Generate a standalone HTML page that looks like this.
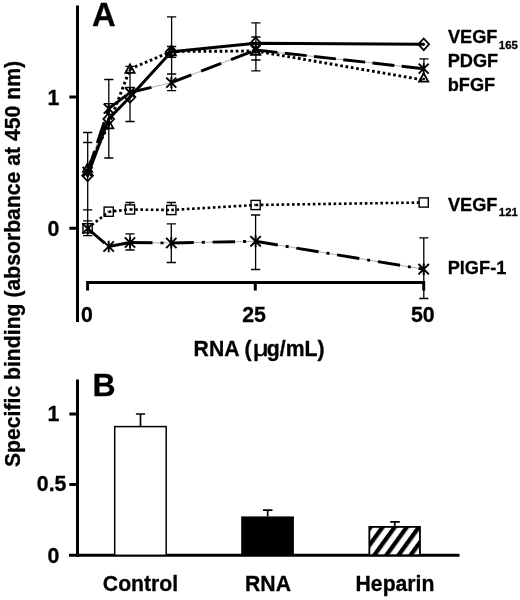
<!DOCTYPE html>
<html><head><meta charset="utf-8"><title>Figure</title>
<style>
html,body{margin:0;padding:0;background:#fff;}
body{width:520px;height:600px;overflow:hidden;}
svg{display:block;}
text{font-family:"Liberation Sans",Arial,Helvetica,sans-serif;font-weight:bold;fill:#000;stroke:#000;stroke-width:0.3px;stroke-linejoin:round;}
</style></head><body>
<svg width="520" height="600" viewBox="0 0 520 600">
<defs>
<pattern id="hatch" patternUnits="userSpaceOnUse" width="9.8" height="9.8" patternTransform="rotate(-54) translate(0 -0.2)">
<rect x="0" y="0" width="9.8" height="4.3" fill="#000"/>
</pattern>
</defs>
<rect width="520" height="600" fill="#fff"/>

<g fill="none" stroke="#000" stroke-width="3" stroke-linecap="butt">
<path d="M77.5 5.5V322"/>
<path d="M69.3 97H77M69.3 228.3H77"/>
<path d="M87.6 290.4V282.5H423.7V290.4M255.3 282.5V290.4"/>
<path d="M77.5 379.5V556.8"/>
<path d="M69 555.3H459.5"/>
<path d="M69.3 414H77M69.3 484.6H77"/>
</g>
<g fill="none" stroke="#000" stroke-width="1.3">
<path d="M87.7 132.5V235.6M83.10000000000001 132.5H92.3M83.10000000000001 142.5H92.3M83.10000000000001 209.8H92.3M83.10000000000001 220.8H92.3M83.10000000000001 235.6H92.3"/>
<path d="M108.8 79.5V158M104.2 79.5H113.39999999999999M104.2 103.7H113.39999999999999M104.2 158H113.39999999999999"/>
<path d="M130 66.3V121.5M125.4 66.3H134.6M125.4 87.5H134.6M125.4 121.5H134.6"/>
<path d="M171.6 16.9V90.6M167.0 16.9H176.2M167.0 46.5H176.2M167.0 57.3H176.2M167.0 74H176.2M167.0 90.6H176.2"/>
<path d="M255.9 22.8V70.9M251.3 22.8H260.5M251.3 37H260.5M251.3 60H260.5M251.3 70.9H260.5"/>
<path d="M423.9 58.8V68M419.29999999999995 58.8H428.5"/>
<path d="M130 202.5V205M125.4 202.5H134.6"/>
<path d="M171.3 202.5V205.5M166.70000000000002 202.5H175.9"/>
<path d="M130 233.8V250M125.4 233.8H134.6M125.4 250H134.6"/>
<path d="M171.3 223.8V262.5M166.70000000000002 223.8H175.9M166.70000000000002 262.5H175.9"/>
<path d="M255.6 215V269.5M251.0 215H260.2M251.0 269.5H260.2"/>
<path d="M423.8 237.8V298.5M419.2 237.8H428.40000000000003M419.2 298.5H428.40000000000003"/>
</g>
<g fill="none" stroke="#000" stroke-linejoin="round">
<polyline points="87.6,228.5 108.7,246.5 130.0,242.5 171.3,243 255.6,241.3 423.7,269.2" stroke="#999" stroke-width="0.8"/>
<polyline points="87.6,172 108.7,108.7 130.0,92.5 171.3,82.7 255.6,50 423.7,68.7" stroke="#999" stroke-width="0.8"/>
<polyline points="87.6,175.5 108.7,119 130.0,97 171.3,51.7 255.6,43.3 423.7,44.3" stroke-width="3"/>
<line x1="87.6" y1="172" x2="108.7" y2="108.7" stroke-width="2.9" stroke-dasharray="22 8.5"/>
<line x1="108.7" y1="108.7" x2="130.0" y2="92.5" stroke-width="2.9" stroke-dasharray="22 8.5"/>
<line x1="130.0" y1="92.5" x2="171.3" y2="82.7" stroke-width="2.9" stroke-dasharray="22 40"/>
<line x1="171.3" y1="82.7" x2="255.6" y2="50" stroke-width="2.9" stroke-dasharray="21.5 10.5"/>
<line x1="255.6" y1="50" x2="423.7" y2="68.7" stroke-width="2.9" stroke-dasharray="22 7.4"/>
<line x1="87.6" y1="168" x2="108.7" y2="124.5" stroke-width="2.9" stroke-dasharray="2.7 2.67"/>
<line x1="108.7" y1="124.5" x2="130.0" y2="69" stroke-width="2.9" stroke-dasharray="2.7 2.67"/>
<line x1="130.0" y1="69" x2="171.3" y2="51.5" stroke-width="2.9" stroke-dasharray="2.7 2.67"/>
<line x1="171.3" y1="51.5" x2="255.6" y2="51" stroke-width="2.9" stroke-dasharray="2.7 2.67"/>
<line x1="255.6" y1="51" x2="423.7" y2="80" stroke-width="2.9" stroke-dasharray="2.7 2.67"/>
<line x1="87.6" y1="228.3" x2="108.7" y2="211.7" stroke-width="2.6" stroke-dasharray="2.6 2.6"/>
<line x1="108.7" y1="211.7" x2="130.0" y2="209.5" stroke-width="2.6" stroke-dasharray="2.6 2.6"/>
<line x1="130.0" y1="209.5" x2="171.3" y2="210" stroke-width="2.6" stroke-dasharray="2.6 2.6"/>
<line x1="171.3" y1="210" x2="255.6" y2="205" stroke-width="2.6" stroke-dasharray="2.6 2.6"/>
<line x1="255.6" y1="205" x2="423.7" y2="202.5" stroke-width="2.6" stroke-dasharray="2.6 2.6 2.6 2.6 2.6 2.6 2.6 2.6 2.6 2.6 2.6 2.6 2.6 2.6 2.6 2.6 2.6 2.6 2.6 2.6 2.6 2.6 2.6 2.6 2.6 2.6 2.6 2.6 2.6 2.6 2.6 2.6 2.6 2.6 2.6 2.6 2.6 2.6 2.6 2.6 2.6 2.6 2.6 2.6 2.6 2.6 2.6 2.6 2.6 2.6 2.6 2.6 2.6 2.6 2.6 2.6 2.6 2.6 2.6 2.6 2.6 2.6 2.6 20"/>
<line x1="87.6" y1="228.5" x2="108.7" y2="246.5" stroke-width="2.9" stroke-dasharray="22.5 8 3 7.8"/>
<line x1="108.7" y1="246.5" x2="130.0" y2="242.5" stroke-width="2.9" stroke-dasharray="22.5 8 3 7.8"/>
<line x1="130.0" y1="242.5" x2="171.3" y2="243" stroke-width="2.9" stroke-dasharray="22.5 8 3 7.8"/>
<line x1="171.3" y1="243" x2="255.6" y2="241.3" stroke-width="2.9" stroke-dasharray="22.5 8 3 7.8"/>
<line x1="255.6" y1="241.3" x2="423.7" y2="269.2" stroke-width="2.9" stroke-dasharray="22.5 8 3 7.8"/>
</g>
<g fill="none" stroke="#000" stroke-width="1.4">
<rect x="83.0" y="223.70000000000002" width="9.2" height="9.2"/>
<rect x="104.10000000000001" y="207.1" width="9.2" height="9.2"/>
<rect x="125.4" y="204.9" width="9.2" height="9.2"/>
<rect x="166.70000000000002" y="205.4" width="9.2" height="9.2"/>
<rect x="251.0" y="200.4" width="9.2" height="9.2"/>
<rect x="419.09999999999997" y="197.9" width="9.2" height="9.2"/>
</g>
<g fill="none" stroke="#000" stroke-width="1.8">
<path d="M87.6 169.7L93.0 175.5L87.6 181.3L82.19999999999999 175.5Z"/><circle cx="87.6" cy="175.5" r="1.4" fill="#000" stroke="none"/>
<path d="M108.7 113.19999999999999L114.10000000000001 119L108.7 124.80000000000001L103.3 119Z"/><circle cx="108.7" cy="119" r="1.4" fill="#000" stroke="none"/>
<path d="M130.0 91.19999999999999L135.4 97L130.0 102.80000000000001L124.6 97Z"/><circle cx="130.0" cy="97" r="1.4" fill="#000" stroke="none"/>
<path d="M171.3 45.900000000000006L176.70000000000002 51.7L171.3 57.5L165.9 51.7Z"/><circle cx="171.3" cy="51.7" r="1.4" fill="#000" stroke="none"/>
<path d="M255.6 37.5L261.0 43.3L255.6 49.099999999999994L250.2 43.3Z"/><circle cx="255.6" cy="43.3" r="1.4" fill="#000" stroke="none"/>
<path d="M423.7 38.5L429.09999999999997 44.3L423.7 50.099999999999994L418.3 44.3Z"/><circle cx="423.7" cy="44.3" r="1.4" fill="#000" stroke="none"/>
<path d="M87.6 163.4L92.19999999999999 171.91H83.0Z"/><circle cx="87.6" cy="169.2" r="1.3" fill="#000" stroke="none"/>
<path d="M108.7 119.9L113.3 128.41H104.10000000000001Z"/><circle cx="108.7" cy="125.7" r="1.3" fill="#000" stroke="none"/>
<path d="M130.0 64.4L134.6 72.91H125.4Z"/><circle cx="130.0" cy="70.2" r="1.3" fill="#000" stroke="none"/>
<path d="M171.3 46.9L175.9 55.41H166.70000000000002Z"/><circle cx="171.3" cy="52.7" r="1.3" fill="#000" stroke="none"/>
<path d="M255.6 46.4L260.2 54.91H251.0Z"/><circle cx="255.6" cy="52.2" r="1.3" fill="#000" stroke="none"/>
<path d="M423.7 73.2L428.3 81.71H419.09999999999997Z"/><circle cx="423.7" cy="79.0" r="1.3" fill="#000" stroke="none"/>
</g>
<g fill="none" stroke="#000" stroke-width="1.9">
<path d="M82.6 167L92.6 177M82.6 177L92.6 167M87.6 166.5V177.5"/>
<path d="M103.7 103.7L113.7 113.7M103.7 113.7L113.7 103.7M108.7 103.2V114.2"/>
<path d="M125.0 87.5L135.0 97.5M125.0 97.5L135.0 87.5M130.0 87.0V98.0"/>
<path d="M166.3 77.7L176.3 87.7M166.3 87.7L176.3 77.7M171.3 77.2V88.2"/>
<path d="M250.6 45L260.6 55M250.6 55L260.6 45M255.6 44.5V55.5"/>
<path d="M418.7 63.7L428.7 73.7M418.7 73.7L428.7 63.7M423.7 63.2V74.2"/>
<path d="M82.39999999999999 223.3L92.8 233.7M82.39999999999999 233.7L92.8 223.3M87.6 222.8V234.2"/>
<path d="M103.5 241.3L113.9 251.7M103.5 251.7L113.9 241.3M108.7 240.8V252.2"/>
<path d="M124.8 237.3L135.2 247.7M124.8 247.7L135.2 237.3M130.0 236.8V248.2"/>
<path d="M166.10000000000002 237.8L176.5 248.2M166.10000000000002 248.2L176.5 237.8M171.3 237.3V248.7"/>
<path d="M250.4 236.10000000000002L260.8 246.5M250.4 246.5L260.8 236.10000000000002M255.6 235.60000000000002V247.0"/>
<path d="M418.5 264.0L428.9 274.4M418.5 274.4L428.9 264.0M423.7 263.5V274.9"/>
</g>
<g stroke="#000" stroke-width="1.5">
<path d="M140.5 426.8V414M135.9 414H145.1M267.7 516.5V510.1M263 510.1H272.5M394.8 526V521.8M390.2 521.8H399.8" fill="none" stroke-width="1.7"/>
<rect x="114.7" y="426.6" width="51.5" height="128.7" fill="#fff"/>
<rect x="241.2" y="516.4" width="52.7" height="38.9" fill="#000" stroke="none"/>
<rect x="369.4" y="526.8" width="50.5" height="28.5" fill="#fff"/>
<rect x="369.4" y="526.8" width="50.5" height="28.5" fill="url(#hatch)"/>
</g>
<text x="91.9" y="25.7" font-size="32.8">A</text>
<text x="92.4" y="395.8" font-size="32">B</text>
<text x="53.5" y="104.7" font-size="21.3" text-anchor="middle">1</text>
<text x="53.4" y="235.8" font-size="21.3" text-anchor="middle">0</text>
<text x="81" y="321.8" font-size="21.3">0</text>
<text x="254" y="321.8" font-size="21.3" text-anchor="middle">25</text>
<text x="422.8" y="321.8" font-size="21.3" text-anchor="middle">50</text>
<text x="193.6" y="355.7" font-size="21.2">RNA (</text>
<text transform="translate(252.9 355.7) scale(1.27 1)" font-size="21.2" style="font-weight:normal;stroke-width:0.5px">μ</text>
<text x="266.8" y="355.7" font-size="21.2">g/mL)</text>
<text x="53.5" y="421.4" font-size="21.3" text-anchor="middle">1</text>
<text x="51.6" y="491" font-size="21.3" text-anchor="middle">0.5</text>
<text x="53.4" y="562.5" font-size="21.3" text-anchor="middle">0</text>
<text x="140.5" y="591.3" font-size="21.2" text-anchor="middle">Control</text>
<text x="268" y="591.3" font-size="21.2" text-anchor="middle">RNA</text>
<text x="395" y="591.3" font-size="21.2" text-anchor="middle">Heparin</text>
<text transform="translate(20.3 264) rotate(-90)" font-size="21.2" text-anchor="middle">Specific binding (absorbance at 450 nm)</text>
<text x="447.9" y="43.4" font-size="18.2">VEGF</text>
<text x="498.8" y="49" font-size="11.4">165</text>
<text x="447.7" y="67.3" font-size="18.2">PDGF</text>
<text x="447.7" y="91" font-size="18.2">bFGF</text>
<text x="447.9" y="210.6" font-size="18.2">VEGF</text>
<text x="498.8" y="215.8" font-size="11.4">121</text>
<text x="447.7" y="273.6" font-size="18.2">PlGF-1</text>

</svg></body></html>
